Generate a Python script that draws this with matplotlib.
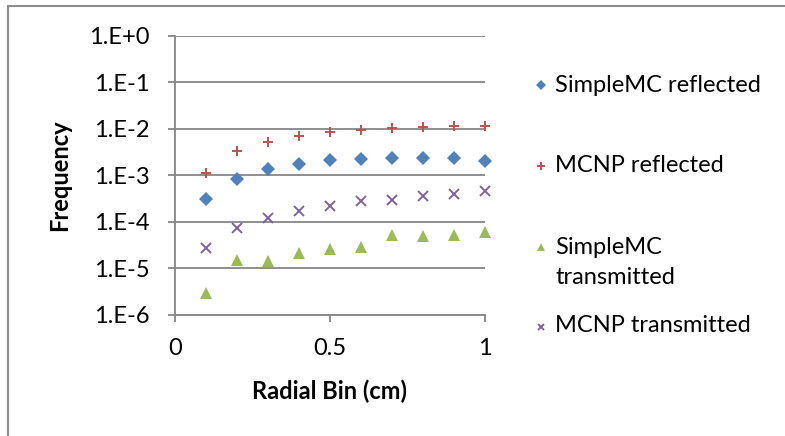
import matplotlib
matplotlib.use("Agg")
import matplotlib.pyplot as plt
from matplotlib.lines import Line2D
from matplotlib.ticker import FixedLocator, FuncFormatter, NullLocator
import numpy as np

plt.rcParams['font.family'] = ['Lato', 'DejaVu Sans']

# Radial bins (cm)
radial_bin = [0.1, 0.2, 0.3, 0.4, 0.5, 0.6, 0.7, 0.8, 0.9, 1.0]

simplemc_reflected = [3.1e-4, 8.4e-4, 1.33e-3, 1.74e-3, 2.08e-3,
                      2.19e-3, 2.3e-3, 2.3e-3, 2.3e-3, 2.05e-3]
mcnp_reflected = [1.1e-3, 3.3e-3, 5.2e-3, 7.1e-3, 8.5e-3,
                  9.5e-3, 1.05e-2, 1.09e-2, 1.12e-2, 1.16e-2]
simplemc_transmitted = [3.0e-6, 1.5e-5, 1.4e-5, 2.1e-5, 2.55e-5,
                        2.8e-5, 5.1e-5, 4.85e-5, 5.15e-5, 5.9e-5]
mcnp_transmitted = [2.7e-5, 7.2e-5, 1.18e-4, 1.67e-4, 2.17e-4,
                    2.74e-4, 2.88e-4, 3.5e-4, 3.87e-4, 4.57e-4]

series_labels = ["SimpleMC reflected", "MCNP reflected",
                 "SimpleMC\ntransmitted", "MCNP transmitted"]
y_ticks = [1e-6, 1e-5, 1e-4, 1e-3, 1e-2, 1e-1, 1e0]
x_ticks = [0, 0.5, 1]

W, H = 785, 436
fig = plt.figure(figsize=(W / 100, H / 100), dpi=100)
fig.patch.set_facecolor("white")

def fx(px):
    return px / W

def fy(py):
    return 1 - py / H

# chart frame
frame = plt.Rectangle((fx(8), fy(H + 10)), fx(W + 10) - fx(8), fy(6) - fy(H + 10),
                      transform=fig.transFigure, fill=False,
                      edgecolor="#8c8c8c", linewidth=1.5)
fig.add_artist(frame)

left, right, top, bottom = 175, 484.5, 35.7, 314.7
ax = fig.add_axes([fx(left), fy(bottom), fx(right) - fx(left), fy(top) - fy(bottom)])
ax.set_yscale("log")
ax.set_xlim(0, 1)
ax.set_ylim(1e-6, 1)

grid_c = "#868686"
for s in ["top", "right"]:
    ax.spines[s].set_visible(False)
for s in ["left", "bottom"]:
    ax.spines[s].set_color(grid_c)
    ax.spines[s].set_linewidth(1.3)

ax.yaxis.set_major_locator(FixedLocator(y_ticks))
ax.yaxis.set_minor_locator(NullLocator())
ax.yaxis.set_major_formatter(FuncFormatter(lambda v, p: f"1.E{int(round(np.log10(v))):+d}"))
ax.xaxis.set_major_locator(FixedLocator(x_ticks))
ax.xaxis.set_major_formatter(FuncFormatter(lambda v, p: f"{v:g}"))
ax.yaxis.grid(True, color=grid_c, linewidth=1.3)
ax.set_axisbelow(True)
ax.tick_params(axis="y", direction="out", length=5.4, width=1.3, color=grid_c,
               pad=12.6, labelsize=17, labelcolor="black")
ax.tick_params(axis="x", direction="out", length=5, width=1.3, color=grid_c,
               pad=12, labelsize=17, labelcolor="black")

styles = [
    dict(marker="D", color="#4F81BD", ms=7, ls="none", mew=0),
    dict(marker="+", color="#C0504D", ms=7.5, ls="none", mew=1.4),
    dict(marker="^", color="#9BBB59", ms=8.5, ls="none", mew=0),
    dict(marker="x", color="#8064A2", ms=6.5, ls="none", mew=1.4),
]
series = [simplemc_reflected, mcnp_reflected, simplemc_transmitted, mcnp_transmitted]
for vals, st in zip(series, styles):
    ax.plot(radial_bin, vals, clip_on=False, **st)

fig.text(fx(60), fy(175), "Frequency", rotation=90, ha="center", va="center",
         fontsize=17, fontweight="bold")
fig.text(fx(330), fy(391), "Radial Bin (cm)", ha="center", va="center",
         fontsize=17, fontweight="bold")

# legend entries
legend_marker_y = [85, 166, 247, 327]
legend_text_y = [85, 165, 262.5, 326]
for st, my, ty, lab in zip(styles, legend_marker_y, legend_text_y, series_labels):
    small = dict(st)
    small["ms"] = st["ms"] * 0.72
    fig.add_artist(Line2D([fx(541)], [fy(my)], transform=fig.transFigure, **small))
    fig.text(fx(555), fy(ty), lab, ha="left", va="center", fontsize=17,
             linespacing=1.5)

fig.savefig("out.png", dpi=100, facecolor="white")
